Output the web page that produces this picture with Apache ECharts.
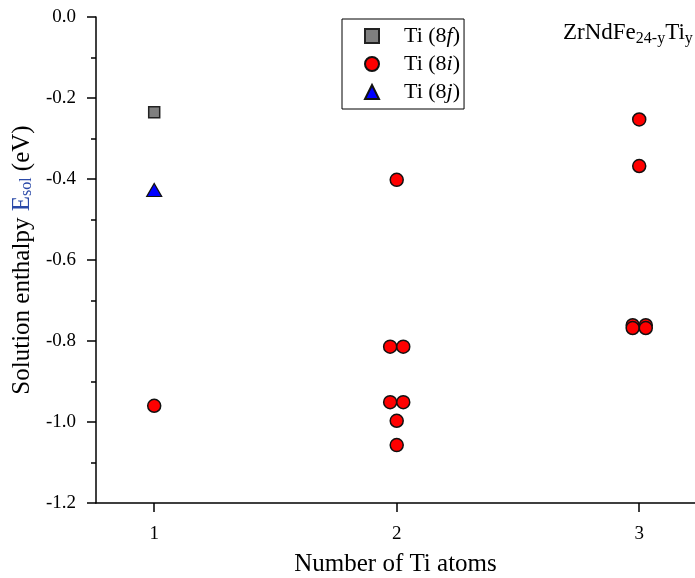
<!DOCTYPE html>
<html>
<head>
<meta charset="utf-8">
<script src="https://cdn.jsdelivr.net/npm/echarts@6/dist/echarts.min.js"></script>
<style>html,body{margin:0;padding:0;background:#fff;}#c{width:695px;height:578px;}</style>
</head>
<body>
<div id="c"></div>
<script>
// Data
const xTicks = [1, 2, 3];
const yTicks = [0, -0.2, -0.4, -0.6, -0.8, -1.0, -1.2];
const ti8f = [[1, -0.235]];
const ti8i = [
  [1, -0.960],
  [2, -0.402], [1.973, -0.814], [2.027, -0.814], [1.973, -0.951], [2.027, -0.951], [2, -0.997], [2, -1.057],
  [3, -0.253], [3, -0.368], [2.973, -0.761], [3.027, -0.761], [2.973, -0.768], [3.027, -0.768]
];
const ti8j = [[1, -0.427]];
const seriesNames = ['Ti (8f)', 'Ti (8i)', 'Ti (8j)'];

const font = 'Liberation Serif';
const chart = echarts.init(document.getElementById('c'));
chart.setOption({
  animation: false,
  backgroundColor: '#fff',
  grid: { left: 96, right: 0, top: 17, bottom: 75, containLabel: false, outerBoundsMode: 'none' },
  xAxis: {
    type: 'value', min: 0.76, max: 3.23,
    name: 'Number of Ti atoms', nameLocation: 'middle', nameGap: 49,
    nameTextStyle: { fontFamily: font, fontSize: 25, color: '#000' },
    axisLine: { onZero: false, lineStyle: { color: '#000', width: 1.5 } },
    axisTick: { show: true, inside: false, length: 9, lineStyle: { color: '#000', width: 1.5 }, customValues: xTicks },
    axisLabel: { fontFamily: font, fontSize: 19, color: '#000', margin: 22, customValues: xTicks },
    splitLine: { show: false }
  },
  yAxis: {
    type: 'value', min: -1.2, max: 0, interval: 0.2,
    name: '{t|Solution enthalpy }{e|E}{s|sol}{t| (eV)}',
    nameLocation: 'middle', nameGap: 59, nameRotate: 90,
    nameTextStyle: {
      fontFamily: font, fontSize: 25, color: '#000',
      rich: {
        t: { fontFamily: font, fontSize: 25, color: '#000' },
        e: { fontFamily: font, fontSize: 25, color: '#2b4aa8' },
        s: { fontFamily: font, fontSize: 16, color: '#2b4aa8', padding: [10, 0, 0, 0] }
      }
    },
    axisLine: { show: true, onZero: false, lineStyle: { color: '#000', width: 1.5 } },
    axisTick: { show: true, inside: false, length: 9, lineStyle: { color: '#000', width: 1.5 } },
    minorTick: { show: true, splitNumber: 2, length: 5, lineStyle: { color: '#000', width: 1.5 } },
    axisLabel: { fontFamily: font, fontSize: 19, color: '#000', margin: 20, formatter: v => v.toFixed(1) },
    splitLine: { show: false }
  },
  legend: {
    orient: 'vertical', left: 342, top: 19,
    padding: [6, 4, 6, 22], itemGap: 6,
    itemWidth: 14, itemHeight: 14,
    borderColor: '#000', borderWidth: 1,
    data: seriesNames,
    formatter: function (n) {
      const m = n.match(/^Ti \(8(.)\)$/);
      return '{n|Ti (8}{i|' + m[1] + '}{n|)}';
    },
    textStyle: {
      fontFamily: font, fontSize: 22, color: '#000', padding: [0, 0, 0, 20], lineHeight: 22,
      rich: {
        n: { fontFamily: font, fontSize: 22, color: '#000', lineHeight: 22 },
        i: { fontFamily: font, fontSize: 22, color: '#000', fontStyle: 'italic', lineHeight: 22 }
      }
    }
  },
  graphic: [{
    type: 'text', left: 563, top: 21,
    style: {
      text: '{n|ZrNdFe}{s|24-y}{n|Ti}{s|y}',
      rich: {
        n: { fontFamily: font, fontSize: 23, fill: '#000' },
        s: { fontFamily: font, fontSize: 16, fill: '#000', padding: [12, 0, 0, 0] }
      }
    }
  }],
  series: [
    { name: seriesNames[0], type: 'scatter', data: ti8f, symbol: 'rect', symbolSize: 11,
      itemStyle: { color: '#808080', borderColor: '#222', borderWidth: 1.5, opacity: 1 } },
    { name: seriesNames[1], type: 'scatter', data: ti8i, symbol: 'circle', symbolSize: 13,
      itemStyle: { color: '#ff0000', borderColor: '#111', borderWidth: 1.5, opacity: 1 } },
    { name: seriesNames[2], type: 'scatter', data: ti8j, symbol: 'triangle', symbolSize: [15, 13],
      itemStyle: { color: '#0000ff', borderColor: '#111', borderWidth: 1.2, opacity: 1 } }
  ]
});
</script>
</body>
</html>
